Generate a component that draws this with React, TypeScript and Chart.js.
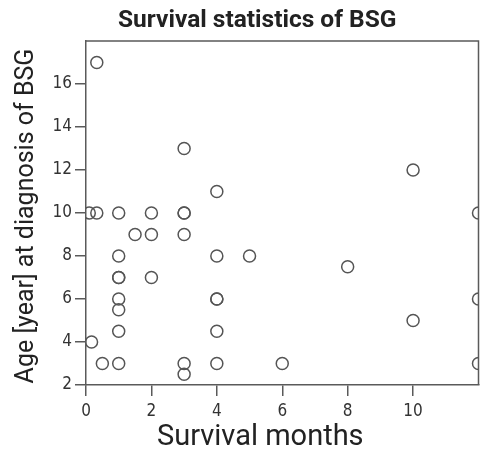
import React, { useEffect, useRef } from "react";
import { Chart, registerables } from "chart.js";

Chart.register(...registerables);

const chartTitle = "Survival statistics of BSG";
const xTitle = "Survival months";
const yTitle = "Age [year] at diagnosis of BSG";

const survivalMonths = [
  0.33, 3, 4, 10, 0.1, 0.33, 1, 2, 3, 3, 12, 1.5, 2, 3, 1, 4, 5, 8, 1, 1, 2,
  1, 4, 4, 12, 1, 1, 4, 10, 0.17, 0.5, 1, 3, 4, 6, 12, 3,
];
const ageYears = [
  17, 13, 11, 12, 10, 10, 10, 10, 10, 10, 10, 9, 9, 9, 8, 8, 8, 7.5, 7, 7, 7,
  6, 6, 6, 6, 5.5, 4.5, 4.5, 5, 4, 3, 3, 3, 3, 3, 3, 2.5,
];

const xTicks = [0, 2, 4, 6, 8, 10];
const yTicks = [2, 4, 6, 8, 10, 12, 14, 16];

const AXIS = "#5a5a5a";

const framePlugin = {
  id: "frame",
  afterDatasetsDraw(chart: any) {
    const { ctx, chartArea } = chart;
    ctx.save();
    ctx.strokeStyle = AXIS;
    ctx.lineWidth = 1.5;
    ctx.beginPath();
    ctx.moveTo(chartArea.left, chartArea.top);
    ctx.lineTo(chartArea.right, chartArea.top);
    ctx.lineTo(chartArea.right, chartArea.bottom);
    ctx.stroke();
    ctx.restore();
  },
};

const textPlugin = {
  id: "texts",
  afterDraw(chart: any) {
    const { ctx, chartArea } = chart;
    const cx = (chartArea.left + chartArea.right) / 2;
    const cy = (chartArea.top + chartArea.bottom) / 2;
    ctx.save();
    ctx.textAlign = "center";
    ctx.textBaseline = "alphabetic";
    ctx.fillStyle = "#222";
    ctx.font = "bold 24.5px Roboto, sans-serif";
    ctx.fillText(chartTitle, cx - 25, chartArea.top - 14.5);
    ctx.font = "29px Roboto, sans-serif";
    ctx.fillText(xTitle, cx - 22, chartArea.bottom + 60);
    ctx.translate(33, cy + 3);
    ctx.rotate(-Math.PI / 2);
    ctx.font = "25px Roboto, sans-serif";
    ctx.fillText(yTitle, 0, 0);
    ctx.restore();
  },
};

export default function App() {
  const ref = useRef<HTMLCanvasElement | null>(null);

  useEffect(() => {
    document.body.style.margin = "0";
    const canvas = ref.current;
    if (!canvas) return;
    const points = survivalMonths.map((x, i) => ({ x, y: ageYears[i] }));
    const tickFont = { family: "'DejaVu Sans Condensed', 'Liberation Sans Narrow', sans-serif", size: 17 };
    const chart = new Chart(canvas, {
      type: "scatter",
      data: {
        datasets: [
          {
            data: points,
            pointStyle: "circle",
            pointRadius: 6,
            pointBorderWidth: 1.5,
            borderColor: "#555",
            backgroundColor: "rgba(0,0,0,0)",
          },
        ],
      },
      options: {
        animation: false,
        responsive: false,
        maintainAspectRatio: false,
        layout: { padding: { left: 0, right: 3, top: 41, bottom: 0 } },
        plugins: {
          legend: { display: false },
          tooltip: { enabled: false },
          title: { display: false },
        },
        scales: {
          x: {
            type: "linear",
            min: 0,
            max: 12,
            afterBuildTicks: (scale: any) => {
              scale.ticks = xTicks.map((v) => ({ value: v }));
            },
            afterFit: (scale: any) => {
              scale.height = 65;
              scale.paddingLeft = 0;
              scale.paddingRight = 0;
            },
            border: { display: true, color: AXIS, width: 1.5 },
            grid: { drawOnChartArea: false, drawTicks: true, tickLength: 11, color: AXIS, lineWidth: 1.5 },
            ticks: { color: "#333", font: tickFont, padding: 5, maxRotation: 0 },
            title: { display: false },
          },
          y: {
            type: "linear",
            min: 2,
            max: 18,
            afterBuildTicks: (scale: any) => {
              scale.ticks = yTicks.map((v) => ({ value: v }));
            },
            afterFit: (scale: any) => {
              scale.width = 86;
              scale.paddingTop = 0;
              scale.paddingBottom = 0;
            },
            border: { display: true, color: AXIS, width: 1.5 },
            grid: { drawOnChartArea: false, drawTicks: true, tickLength: 11, color: AXIS, lineWidth: 1.5 },
            ticks: { color: "#333", font: tickFont, padding: 3 },
            title: { display: false },
          },
        },
      },
      plugins: [framePlugin, textPlugin],
    });
    return () => chart.destroy();
  }, []);

  return (
    <div style={{ width: 486, height: 450 }}>
      <canvas ref={ref} width={486} height={450} style={{ display: "block" }} />
    </div>
  );
}
